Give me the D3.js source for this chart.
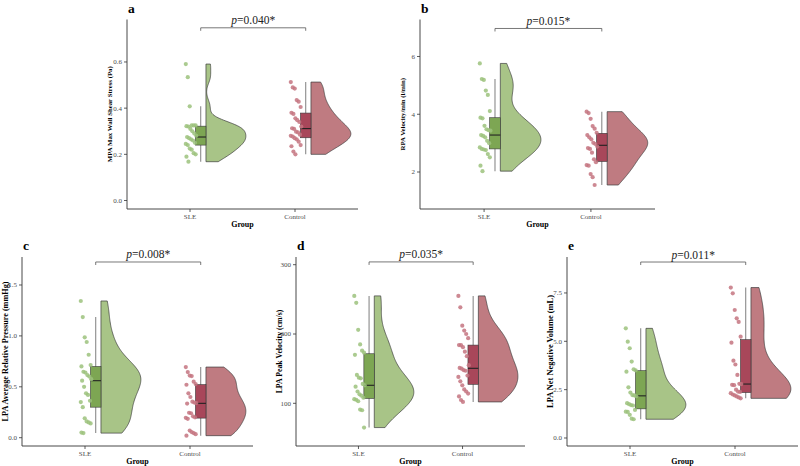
<!DOCTYPE html>
<html>
<head>
<meta charset="utf-8">
<script src="https://cdn.jsdelivr.net/npm/d3@7"></script>
<style>
body { margin: 0; background: #fff; }
svg { display: block; }
</style>
</head>
<body>
<div id="chart"></div>
<script>
const groups = ["SLE", "Control"];

// values
const mpaSLE = [0.591, 0.534, 0.408, 0.325, 0.325, 0.325, 0.322, 0.32, 0.31, 0.30, 0.29, 0.28, 0.275, 0.27, 0.265, 0.26, 0.25, 0.245, 0.24, 0.225, 0.22, 0.205, 0.20, 0.19, 0.168];
const mpaCtl = [0.513, 0.49, 0.485, 0.435, 0.428, 0.405, 0.38, 0.375, 0.356, 0.348, 0.34, 0.32, 0.313, 0.31, 0.298, 0.295, 0.285, 0.28, 0.277, 0.27, 0.265, 0.255, 0.24, 0.235, 0.212, 0.2];
const rpaSLE = [5.76, 5.22, 5.19, 4.82, 4.67, 4.11, 3.88, 3.86, 3.6, 3.48, 3.45, 3.43, 3.28, 3.25, 3.2, 3.08, 3.0, 2.85, 2.8, 2.78, 2.76, 2.62, 2.51, 2.22, 2.03];
const rpaCtl = [4.09, 4.04, 3.84, 3.59, 3.5, 3.36, 3.28, 3.2, 3.13, 3.01, 2.97, 2.88, 2.83, 2.8, 2.67, 2.44, 2.34, 2.24, 2.22, 1.93, 1.82, 1.55];
const presSLE = [1.343, 1.185, 0.986, 0.94, 0.815, 0.714, 0.70, 0.648, 0.64, 0.615, 0.60, 0.575, 0.56, 0.5, 0.436, 0.42, 0.363, 0.35, 0.30, 0.19, 0.16, 0.15, 0.14, 0.05, 0.045];
const presCtl = [0.694, 0.645, 0.61, 0.605, 0.55, 0.527, 0.52, 0.436, 0.4, 0.354, 0.345, 0.34, 0.335, 0.245, 0.24, 0.21, 0.2, 0.195, 0.185, 0.07, 0.055, 0.045, 0.035, 0.02];
const velSLE = [255, 245, 206, 185, 176, 173, 170, 141, 137, 136, 128, 126, 124, 117, 113, 111, 108, 106, 105, 103, 91, 90, 65];
const velCtl = [255, 238.5, 212, 205, 200, 194, 184, 184, 181, 174.5, 168, 155, 151, 150, 148, 147, 140, 138, 131.7, 126, 120, 117, 114, 110, 104.8, 102];
const volSLE = [5.67, 4.98, 4.64, 3.95, 3.55, 3.5, 3.43, 2.62, 2.35, 2.22, 2.2, 2.16, 1.8, 1.75, 1.7, 1.68, 1.45, 1.36, 1.35, 1.2, 1.0, 0.97];
const volCtl = [7.78, 7.48, 6.62, 6.19, 6.0, 5.24, 4.93, 4.0, 3.8, 3.26, 2.8, 2.79, 2.75, 2.73, 2.5, 2.4, 2.38, 2.32, 2.25, 2.2, 2.15, 2.1, 2.05];

const ticksA = [0, 0.2, 0.4, 0.6], labelsA = ["0.0", "0.2", "0.4", "0.6"];
const ticksB = [2, 4, 6], labelsB = ["2", "4", "6"];
const ticksC = [0, 0.5, 1, 1.5], labelsC = ["0.0", "0.5", "1.0", "1.5"];
const ticksD = [100, 200, 300], labelsD = ["100", "200", "300"];
const ticksE = [0, 2.5, 5, 7.5], labelsE = ["0.0", "2.5", "5.0", "7.5"];

const pValues = ["0.040", "0.015", "0.008", "0.035", "0.011"];

const W = 800, H = 466;
const FONT = "'Liberation Serif', 'Times New Roman', Tinos, 'DejaVu Serif', serif";
const fills = {
    violin: ["#a8c487", "#bf7b81"],
    box: ["#7da653", "#a8475a"],
    point: ["#9cc27d", "#c47480"]
};

const panels = [
    {key: "a", left: 127, right: 358, top: 19.5, bottom: 209, yDom: [-0.0368, 0.784], ticks: ticksA, labels: labelsA,
     title: "MPA Max Wall Shear Stress (Pa)", titleSize: 6.8, data: [mpaSLE, mpaCtl], p: pValues[0], bracket: 0.748},
    {key: "b", left: 420, right: 655, top: 19.5, bottom: 209, yDom: [0.719, 7.281], ticks: ticksB, labels: labelsB,
     title: "RPA Velocity/min (l/min)", titleSize: 6.8, data: [rpaSLE, rpaCtl], p: pValues[1], bracket: 6.97},
    {key: "c", left: 22, right: 253, top: 257, bottom: 446, yDom: [-0.0815, 1.775], ticks: ticksC, labels: labelsC,
     title: "LPA Average Relative Pressure (mmHg)", titleSize: 8.2, data: [presSLE, presCtl], p: pValues[2], bracket: 1.726},
    {key: "d", left: 296, right: 525, top: 257, bottom: 446, yDom: [38.4, 311.1], ticks: ticksD, labels: labelsD,
     title: "LPA Peak Velocity (cm/s)", titleSize: 7.8, data: [velSLE, velCtl], p: pValues[3], bracket: 304},
    {key: "e", left: 567, right: 798, top: 257, bottom: 446, yDom: [-0.414, 9.36], ticks: ticksE, labels: labelsE,
     title: "LPA Net Negative Volume (mL)", titleSize: 8.4, data: [volSLE, volCtl], p: pValues[4], bracket: 9.1}
];

// offsets in category units
const ptOff = 0.01, ptSpread = 0.1;
const boxLo = 0.052, boxHi = 0.152;
const violinStart = 0.152, violinWidth = 0.38;

function bwNrd0(v) {
    const s = v.slice().sort(d3.ascending);
    const iqr = d3.quantile(s, 0.75) - d3.quantile(s, 0.25);
    const lo = Math.min(d3.deviation(s), iqr/1.34);
    return 0.9*lo*Math.pow(s.length, -0.2);
}

function density(v) {
    const bw = bwNrd0(v);
    const [mn, mx] = d3.extent(v);
    const n = 120;
    const out = [];
    for(let i = 0; i <= n; i++) {
        const y = mn + (mx - mn)*i/n;
        let d = 0;
        for(const x of v) {
            const u = (y - x)/bw;
            d += Math.exp(-0.5*u*u);
        }
        out.push([y, d]);
    }
    const peak = d3.max(out, d => d[1]);
    return out.map(d => [d[0], d[1]/peak]);
}

function boxStats(v) {
    const s = v.slice().sort(d3.ascending);
    const q1 = d3.quantile(s, 0.25), med = d3.quantile(s, 0.5), q3 = d3.quantile(s, 0.75);
    const iqr = q3 - q1;
    const lo = d3.min(s.filter(d => d >= q1 - 1.5*iqr));
    const hi = d3.max(s.filter(d => d <= q3 + 1.5*iqr));
    return {q1, med, q3, lo, hi};
}

// fixed jitter pattern
const jit = i => ((i*37) % 17)/16 - 0.5;

const svg = d3.select("#chart").append("svg")
    .attr("width", W)
    .attr("height", H)
    .attr("font-family", FONT)
    .style("background", "white");

for(const p of panels) {
    const x = d3.scaleLinear().domain([0.4, 2.6]).range([p.left, p.right]);
    const y = d3.scaleLinear().domain(p.yDom).range([p.bottom, p.top]);
    const g = svg.append("g").attr("class", "panel-" + p.key);

    p.data.forEach((vals, gi) => {
        const c = gi + 1;
        const dens = density(vals);
        const x0 = x(c + violinStart);
        const pts = dens.map(d => [x(c + violinStart + violinWidth*d[1]), y(d[0])]);
        const poly = [[x0, y(dens[0][0])]].concat(pts, [[x0, y(dens[dens.length - 1][0])]]);
        g.append("path")
            .attr("d", "M" + poly.map(d => d.join(",")).join("L") + "Z")
            .style("fill", fills.violin[gi])
            .style("stroke", "#3c3c3c")
            .style("stroke-width", 0.7);

        const st = boxStats(vals);
        const bc = x(c + (boxLo + boxHi)/2);
        g.append("line")
            .attr("x1", bc).attr("x2", bc)
            .attr("y1", y(st.lo)).attr("y2", y(st.hi))
            .style("stroke", "#8a8a8a")
            .style("stroke-width", 1.1);
        g.append("rect")
            .attr("x", x(c + boxLo))
            .attr("width", x(c + boxHi) - x(c + boxLo))
            .attr("y", y(st.q3))
            .attr("height", y(st.q1) - y(st.q3))
            .style("fill", fills.box[gi])
            .style("stroke", "#3a3a3a")
            .style("stroke-width", 0.6);
        g.append("line")
            .attr("x1", x(c + boxLo)).attr("x2", x(c + boxHi))
            .attr("y1", y(st.med)).attr("y2", y(st.med))
            .style("stroke", "#222")
            .style("stroke-width", 1.1);

        g.selectAll(null).data(vals).enter().append("circle")
            .attr("cx", (d, i) => x(c + ptOff + ptSpread*jit(i)))
            .attr("cy", d => y(d))
            .attr("r", 2.1)
            .style("fill", fills.point[gi])
            .style("opacity", 0.85);
    });

    // axes
    g.append("line")
        .attr("x1", p.left).attr("x2", p.left)
        .attr("y1", p.top).attr("y2", p.bottom)
        .style("stroke", "#333").style("stroke-width", 0.9);
    g.append("line")
        .attr("x1", p.left).attr("x2", p.right)
        .attr("y1", p.bottom).attr("y2", p.bottom)
        .style("stroke", "#333").style("stroke-width", 0.9);

    p.ticks.forEach((t, i) => {
        g.append("line")
            .attr("x1", p.left - 3).attr("x2", p.left)
            .attr("y1", y(t)).attr("y2", y(t))
            .style("stroke", "#333").style("stroke-width", 0.8);
        g.append("text")
            .attr("x", p.left - 5)
            .attr("y", y(t))
            .attr("dy", "0.35em")
            .attr("text-anchor", "end")
            .style("font-size", "7px")
            .style("fill", "#4d4d4d")
            .text(p.labels[i]);
    });
    groups.forEach((gname, gi) => {
        const cx = x(gi + 1);
        g.append("line")
            .attr("x1", cx).attr("x2", cx)
            .attr("y1", p.bottom).attr("y2", p.bottom + 3)
            .style("stroke", "#333").style("stroke-width", 0.8);
        g.append("text")
            .attr("x", cx)
            .attr("y", p.bottom + 10)
            .attr("text-anchor", "middle")
            .style("font-size", "7px")
            .style("fill", "#4d4d4d")
            .text(gname);
    });

    g.append("text")
        .attr("x", (p.left + p.right)/2)
        .attr("y", p.bottom + 18)
        .attr("text-anchor", "middle")
        .style("font-size", "8px")
        .style("font-weight", "bold")
        .text("Group");

    g.append("text")
        .attr("transform", `translate(${p.left - 17},${(p.top + p.bottom)/2}) rotate(-90)`)
        .attr("text-anchor", "middle")
        .attr("dy", "0.35em")
        .style("font-size", p.titleSize + "px")
        .style("font-weight", "bold")
        .text(p.title);

    g.append("text")
        .attr("x", p.left + 1)
        .attr("y", p.top - 7)
        .style("font-size", "13.5px")
        .style("font-weight", "bold")
        .text(p.key);

    // significance bracket
    const bx1 = x(1 + (boxLo + boxHi)/2), bx2 = x(2 + (boxLo + boxHi)/2), by = y(p.bracket);
    g.append("path")
        .attr("d", `M${bx1},${by + 3}V${by}H${bx2}V${by + 3}`)
        .style("fill", "none")
        .style("stroke", "#555")
        .style("stroke-width", 0.8);
    const pt = g.append("text")
        .attr("x", (bx1 + bx2)/2)
        .attr("y", by - 3.5)
        .attr("text-anchor", "middle")
        .style("font-size", "11.5px")
        .style("fill", "#222");
    pt.append("tspan").style("font-style", "italic").text("p");
    pt.append("tspan").text("=" + p.p + "*");
}
</script>
</body>
</html>
